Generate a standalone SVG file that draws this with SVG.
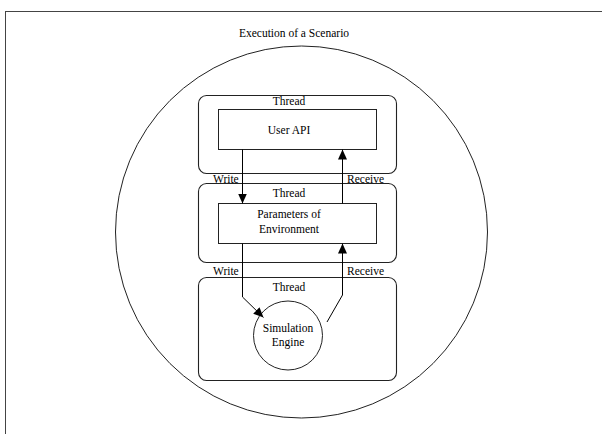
<svg xmlns="http://www.w3.org/2000/svg" width="602" height="434" viewBox="0 0 602 434">
<style>
text{font-family:"Liberation Serif","Times New Roman",serif;font-size:11.5px;fill:#000}
.c{text-anchor:middle}
.thread{fill:none;stroke:#222;stroke-width:1.1}
.box{fill:none;stroke:#222;stroke-width:1}
.ln{fill:none;stroke:#000;stroke-width:1}
</style>
<defs>
<marker id="ah" viewBox="0 0 10 10" refX="10" refY="5" markerWidth="10" markerHeight="10" markerUnits="userSpaceOnUse" orient="auto">
<path d="M0,0.5 L10,5 L0,9.5 Z" fill="#000"/>
</marker>
</defs>
<rect width="602" height="434" fill="#fff"/>
<g id="frame">
<rect x="5.5" y="11.5" width="700" height="500" fill="none" stroke="#444" stroke-width="1"/>
<text class="c" x="294" y="37">Execution of a Scenario</text>
</g>
<g id="scenario">
<circle cx="301.5" cy="232" r="186" fill="none" stroke="#222" stroke-width="1"/>
</g>
<g id="thread1">
<rect class="thread" x="198.5" y="95.5" width="198" height="78" rx="8"/>
<text class="c" x="289" y="105">Thread</text>
</g>
<g id="userapi">
<rect class="box" x="218.5" y="109.5" width="158" height="40"/>
<text class="c" x="289" y="134">User API</text>
</g>
<g id="thread2">
<rect class="thread" x="198.5" y="183.5" width="198" height="79" rx="8"/>
<text class="c" x="289" y="197">Thread</text>
</g>
<g id="params">
<rect class="box" x="218.5" y="203.5" width="158" height="40"/>
<text class="c" x="289" y="218">Parameters of</text>
<text class="c" x="289" y="233">Environment</text>
</g>
<g id="thread3">
<rect class="thread" x="198.5" y="277.5" width="198" height="103" rx="8"/>
<text class="c" x="289" y="291">Thread</text>
</g>
<g id="engine">
<circle cx="288" cy="335.5" r="34.5" fill="none" stroke="#222" stroke-width="1"/>
<text class="c" x="288" y="332">Simulation</text>
<text class="c" x="288" y="346">Engine</text>
</g>
<g id="connectors">
<line class="ln" x1="242.5" y1="149.5" x2="242.5" y2="203.5" marker-end="url(#ah)"/>
<line class="ln" x1="342.5" y1="203.5" x2="342.5" y2="149.5" marker-end="url(#ah)"/>
<polyline class="ln" points="242.5,243.5 242.5,297 263.5,317.5" marker-end="url(#ah)"/>
<polyline class="ln" points="327,322 342.5,295 342.5,243.5" marker-end="url(#ah)"/>
<text x="213" y="183">Write</text>
<text x="347" y="183">Receive</text>
<text x="213" y="275">Write</text>
<text x="347" y="275">Receive</text>
</g>
</svg>
